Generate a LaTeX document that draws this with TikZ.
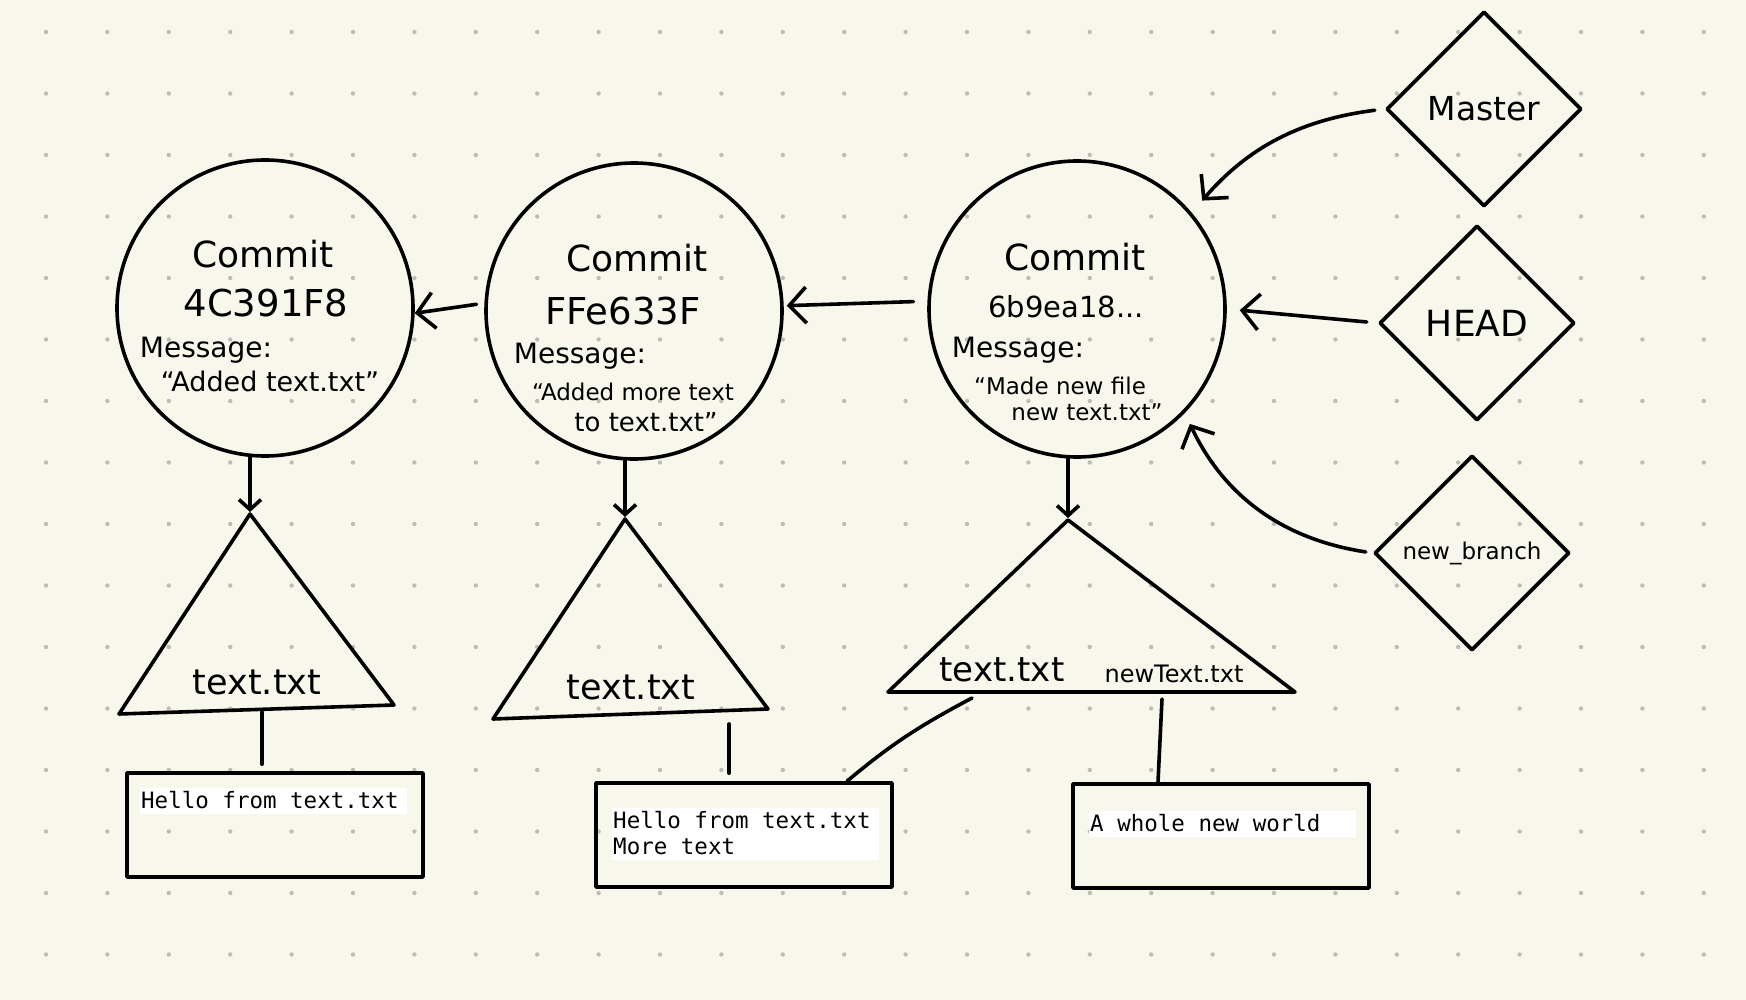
\documentclass[tikz,border=0pt]{standalone}
\usepackage{fontspec}
\setmainfont{DejaVu Sans}
\setmonofont{DejaVu Sans Mono}
\usetikzlibrary{arrows.meta,shapes.geometric}
\definecolor{paper}{HTML}{F8F7EB}
\definecolor{dotgray}{HTML}{BDBDB5}
\tikzset{
    >={Straight Barb[length=17pt,width=36pt]},
    small arrow/.style={-{Straight Barb[length=10pt,width=22pt]}},
    handline/.style={line width=3.6pt, line cap=round, line join=round},
    commit/.style={circle, draw, handline, minimum size=296pt, inner sep=0pt},
    branch/.style={diamond, draw, handline, minimum width=195pt, minimum height=195pt,
            inner sep=0pt, font=\fontsize{33}{36}\selectfont},
    filebox/.style={rectangle, draw, handline, minimum width=296pt, minimum height=104pt},
    filetext/.style={anchor=north west, fill=white, inner xsep=1pt, inner ysep=0pt,
            text width=265pt, align=left, font=\ttfamily\fontsize{22.5}{26}\selectfont},
    heading/.style={font=\fontsize{36}{40}\selectfont},
    hashtext/.style={font=\fontsize{37}{40}\selectfont},
    msglabel/.style={font=\fontsize{28}{32}\selectfont},
    msgtext/.style={font=\fontsize{#1}{#1}\selectfont},
    fname/.style={font=\fontsize{#1}{#1}\selectfont},
}
% strut for one line of file text, with full mono spaces
\newcommand{\monoline}{\spaceskip=0.602em\relax\rule[-6pt]{0pt}{26pt}}

\begin{document}
\begin{tikzpicture}[x=1pt, y=-1pt]
        \useasboundingbox (0,0) rectangle (1746,1000);
        %paper with dot grid
        \fill[paper] (0,0) rectangle (1746,1000);
        \foreach \i in {0,...,27}
            \foreach \j in {0,...,15}
                \fill[dotgray] (46+61.4*\i, 32+61.5*\j) circle (2.2pt);
        %commits
        \node[commit] (c1) at (265,308) {};
        \node[commit] (c2) at (634,311) {};
        \node[commit] (c3) at (1077,309) {};
        \node[heading] (c1head) at (263,254) {Commit};
        \node[hashtext] (c1hash) at (266,303) {4C391F8};
        \node[msglabel] (c1label) at (206,350) {Message:};
        \node[msgtext=27] (c1msg) at (270,381) {“Added text.txt”};
        \node[heading] (c2head) at (637,258) {Commit};
        \node[hashtext] (c2hash) at (623,311) {FFe633F};
        \node[msglabel] (c2label) at (580,356) {Message:};
        \node[msgtext=23] (c2msga) at (633,392) {“Added more text};
        \node[msgtext=26] (c2msgb) at (646,422) {to text.txt”};
        \node[heading] (c3head) at (1075,257) {Commit};
        \node[msgtext=29] (c3hash) at (1066,307) {6b9ea18...};
        \node[msglabel] (c3label) at (1018,350) {Message:};
        \node[msgtext=23] (c3msga) at (1060,386) {“Made new file};
        \node[msgtext=23] (c3msgb) at (1087,412) {new text.txt”};
        %branches
        \node[branch] (master) at (1484,109) {Master};
        \node[branch, font=\fontsize{36}{40}\selectfont] (head) at (1477,323) {HEAD};
        \node[branch, font=\fontsize{23}{26}\selectfont] (newbranch) at (1472,553) {new\_branch};
        %trees
        \coordinate (t1top) at (250,514);
        \coordinate (t2top) at (625,519);
        \coordinate (t3top) at (1068,520);
        \draw[handline] (t1top) -- (119,714) -- (394,705) -- cycle;
        \draw[handline] (t2top) -- (493,719) -- (768,709) -- cycle;
        \draw[handline] (t3top) -- (888,692) -- (1295,692) -- cycle;
        \node[fname=35] (t1file) at (257,682) {text.txt};
        \node[fname=35] (t2file) at (631,687) {text.txt};
        \node[fname=34] (t3file) at (1002,670) {text.txt};
        \node[fname=24] (t3new) at (1174,674) {newText.txt};
        %blobs
        \node[filebox] (f1) at (275,825) {};
        \node[filebox] (f2) at (744,835) {};
        \node[filebox] (f3) at (1221,836) {};
        \node[filetext] (f1text) at (140,788) {\monoline Hello from text.txt};
        \node[filetext] (f2text) at (612,808) {\monoline Hello from text.txt\\\monoline More text};
        \node[filetext] (f3text) at (1089,811) {\monoline A whole new world};
        %parent arrows
        \draw[handline, ->, shorten <=8pt] (c2.177) -- (c1.358);
        \draw[handline, ->, shorten <=14pt, shorten >=3pt] (c3.177) -- (c2.2);
        %branch pointers
        \draw[handline, ->, shorten <=10pt, shorten >=16pt] (master.west) to[bend right=21] (c3.40);
        \draw[handline, ->, shorten <=11pt, shorten >=13pt] (head.west) -- (c3.east);
        \draw[handline, ->, shorten <=7pt, shorten >=12pt] (newbranch.west) to[bend left=28] (c3.-44);
        %commit to tree
        \draw[handline, small arrow, shorten >=2pt] (t1top |- c1.south) -- (t1top);
        \draw[handline, small arrow, shorten >=2pt] (t2top |- c2.south) -- (t2top);
        \draw[handline, small arrow, shorten >=2pt] (t3top |- c3.south) -- (t3top);
        %tree to blob
        \coordinate (t1foot) at (262,712);
        \coordinate (t2foot) at (729,724);
        \coordinate (t3foot) at (972,698);
        \coordinate (t3newfoot) at (1162,699);
        \draw[handline, shorten >=7pt] (t1foot) -- (t1foot |- f1.north);
        \draw[handline, shorten >=8pt] (t2foot) -- (t2foot |- f2.north);
        \draw[handline] (t3foot) to[out=208, in=40] ([xshift=103pt]f2.north);
        \draw[handline] (t3newfoot) -- ([xshift=-63pt]f3.north);
    \end{tikzpicture}
\end{document}
